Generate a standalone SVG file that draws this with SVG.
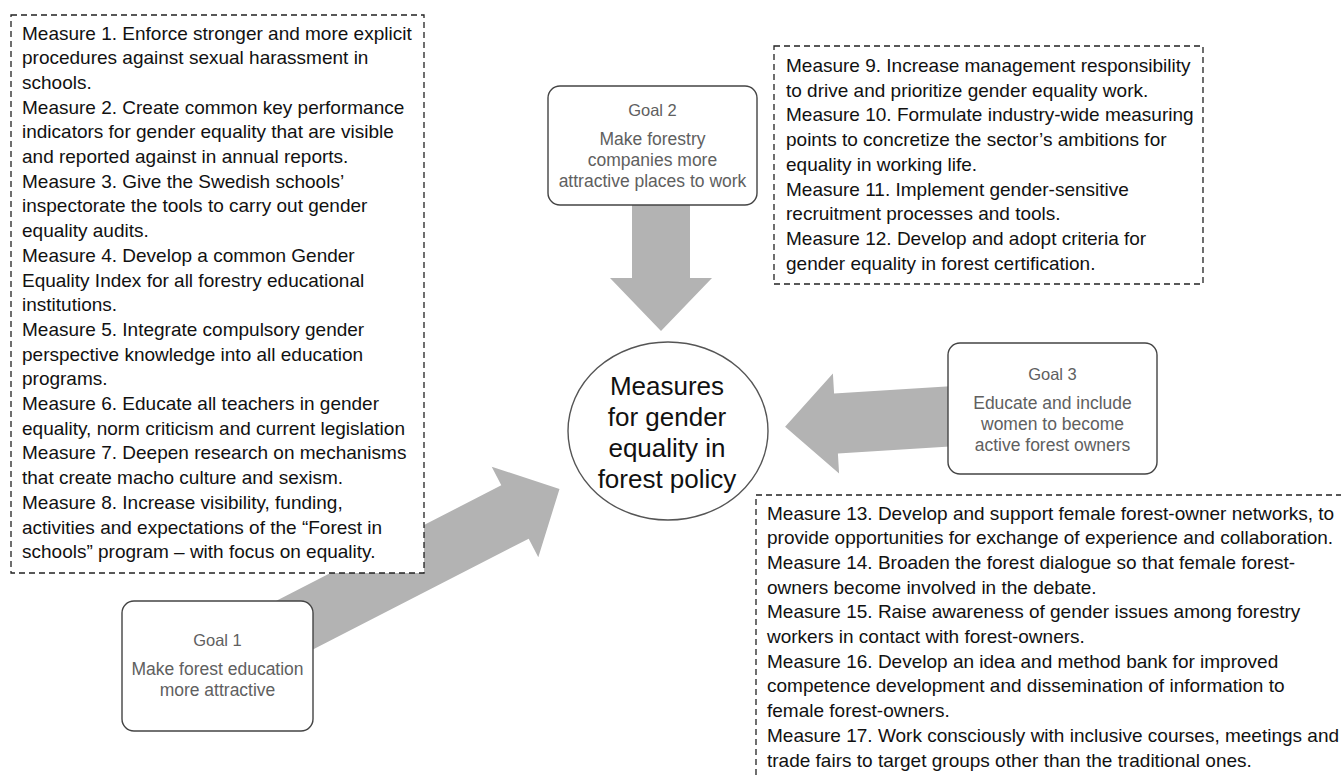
<svg xmlns="http://www.w3.org/2000/svg" width="1341" height="776" viewBox="0 0 1341 776">
<style>
.m{font-family:"Liberation Sans",Arial,sans-serif;font-size:19px;fill:#111}
.dash{fill:#fff;stroke:#222;stroke-width:1.3;stroke-dasharray:6 4}
.goal{fill:#fff;stroke:#444;stroke-width:1.4}
.gt{font-family:"Liberation Sans",Arial,sans-serif;font-size:16.5px;fill:#606060;text-anchor:middle}
.gc{font-family:"Liberation Sans",Arial,sans-serif;font-size:17.5px;fill:#606060;text-anchor:middle}
.arr{fill:#b3b3b3}
.ct{font-family:"Liberation Sans",Arial,sans-serif;font-size:26px;fill:#111;text-anchor:middle}
</style>
<rect width="1341" height="776" fill="#fff"/>
<g id="connectors">
<polygon class="arr" points="203.3,638.3 501.3,485.3 491.7,466.7 559.5,489 538.3,557.3 528.7,538.7 230.7,691.7"/>
<polygon class="arr" points="632,145 632,278 610,278 661,331 712,278 690,278 690,145"/>
<polygon class="arr" points="1050.1,380 834.1,393.6 832.9,373.6 785.1,426.7 839.1,473.4 837.9,453.4 1053.9,440"/>
</g>
<g id="measures-goal1">
<rect class="dash" x="11" y="15" width="413" height="558"/>
<text class="m" x="22" y="39.5"><tspan x="22">Measure 1. Enforce stronger and more explicit</tspan><tspan x="22" dy="24.7">procedures against sexual harassment in</tspan><tspan x="22" dy="24.7">schools.</tspan><tspan x="22" dy="24.7">Measure 2. Create common key performance</tspan><tspan x="22" dy="24.7">indicators for gender equality that are visible</tspan><tspan x="22" dy="24.7">and reported against in annual reports.</tspan><tspan x="22" dy="24.7">Measure 3. Give the Swedish schools’</tspan><tspan x="22" dy="24.7">inspectorate the tools to carry out gender</tspan><tspan x="22" dy="24.7">equality audits.</tspan><tspan x="22" dy="24.7">Measure 4. Develop a common Gender</tspan><tspan x="22" dy="24.7">Equality Index for all forestry educational</tspan><tspan x="22" dy="24.7">institutions.</tspan><tspan x="22" dy="24.7">Measure 5. Integrate compulsory gender</tspan><tspan x="22" dy="24.7">perspective knowledge into all education</tspan><tspan x="22" dy="24.7">programs.</tspan><tspan x="22" dy="24.7">Measure 6. Educate all teachers in gender</tspan><tspan x="22" dy="24.7">equality, norm criticism and current legislation</tspan><tspan x="22" dy="24.7">Measure 7. Deepen research on mechanisms</tspan><tspan x="22" dy="24.7">that create macho culture and sexism.</tspan><tspan x="22" dy="24.7">Measure 8. Increase visibility, funding,</tspan><tspan x="22" dy="24.7">activities and expectations of the “Forest in</tspan><tspan x="22" dy="24.7">schools” program – with focus on equality.</tspan></text>
</g>
<g id="measures-goal2">
<rect class="dash" x="774" y="46" width="429" height="238"/>
<text class="m" x="786" y="72"><tspan x="786">Measure 9. Increase management responsibility</tspan><tspan x="786" dy="24.7">to drive and prioritize gender equality work.</tspan><tspan x="786" dy="24.7">Measure 10. Formulate industry-wide measuring</tspan><tspan x="786" dy="24.7">points to concretize the sector’s ambitions for</tspan><tspan x="786" dy="24.7">equality in working life.</tspan><tspan x="786" dy="24.7">Measure 11. Implement gender-sensitive</tspan><tspan x="786" dy="24.7">recruitment processes and tools.</tspan><tspan x="786" dy="24.7">Measure 12. Develop and adopt criteria for</tspan><tspan x="786" dy="24.7">gender equality in forest certification.</tspan></text>
</g>
<g id="measures-goal3">
<rect class="dash" x="756" y="495" width="600" height="300"/>
<text class="m" x="767" y="519.5"><tspan x="767">Measure 13. Develop and support female forest-owner networks, to</tspan><tspan x="767" dy="24.7">provide opportunities for exchange of experience and collaboration.</tspan><tspan x="767" dy="24.7">Measure 14. Broaden the forest dialogue so that female forest-</tspan><tspan x="767" dy="24.7">owners become involved in the debate.</tspan><tspan x="767" dy="24.7">Measure 15. Raise awareness of gender issues among forestry</tspan><tspan x="767" dy="24.7">workers in contact with forest-owners.</tspan><tspan x="767" dy="24.7">Measure 16. Develop an idea and method bank for improved</tspan><tspan x="767" dy="24.7">competence development and dissemination of information to</tspan><tspan x="767" dy="24.7">female forest-owners.</tspan><tspan x="767" dy="24.7">Measure 17. Work consciously with inclusive courses, meetings and</tspan><tspan x="767" dy="24.7">trade fairs to target groups other than the traditional ones.</tspan></text>
</g>
<g id="goal1">
<rect class="goal" x="122" y="601" width="191" height="130" rx="12"/>
<text class="gt" x="217.5" y="646">Goal 1</text>
<text class="gc" x="217.5" y="675">Make forest education</text>
<text class="gc" x="217.5" y="696">more attractive</text>
</g>
<g id="goal2">
<rect class="goal" x="548" y="86" width="209" height="119" rx="12"/>
<text class="gt" x="652.5" y="116">Goal 2</text>
<text class="gc" x="652.5" y="145">Make forestry</text>
<text class="gc" x="652.5" y="166">companies more</text>
<text class="gc" x="652.5" y="187">attractive places to work</text>
</g>
<g id="goal3">
<rect class="goal" x="948" y="343" width="209" height="131" rx="12"/>
<text class="gt" x="1052.5" y="380">Goal 3</text>
<text class="gc" x="1052.5" y="409">Educate and include</text>
<text class="gc" x="1052.5" y="430">women to become</text>
<text class="gc" x="1052.5" y="451">active forest owners</text>
</g>
<g id="center">
<ellipse cx="668" cy="431" rx="100" ry="89" fill="#fff" stroke="#555" stroke-width="1.4"/>
<text class="ct" x="667" y="395">Measures</text>
<text class="ct" x="667" y="426">for gender</text>
<text class="ct" x="667" y="457">equality in</text>
<text class="ct" x="667" y="488">forest policy</text>
</g>
</svg>
